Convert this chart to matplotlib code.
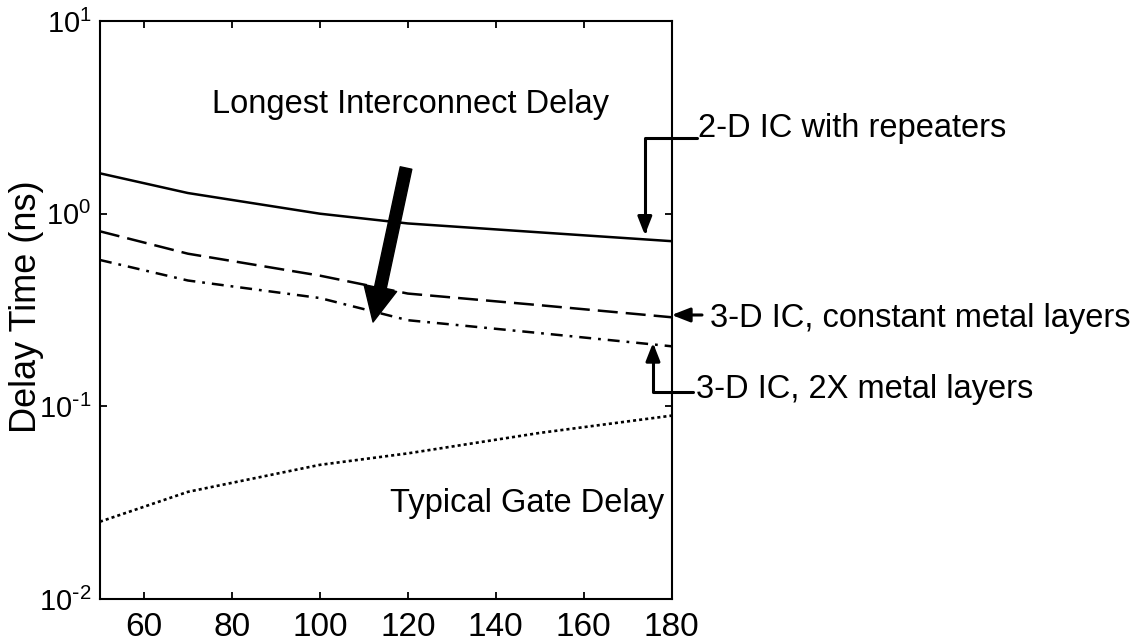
import matplotlib
matplotlib.use("Agg")
import matplotlib.pyplot as plt
from matplotlib.ticker import FixedLocator, FuncFormatter, NullLocator
import numpy as np

plt.rcParams['font.family'] = ['Liberation Sans', 'DejaVu Sans']
plt.rcParams['lines.scale_dashes'] = False
plt.rcParams['axes.unicode_minus'] = False

# technology node (nm)
nodes = [50, 70, 100, 120, 150, 180]
# delay times (ns)
delay_2d = [1.62, 1.28, 1.00, 0.89, 0.80, 0.72]
delay_3d_const = [0.81, 0.62, 0.477, 0.385, 0.335, 0.29]
delay_3d_2x = [0.575, 0.45, 0.365, 0.28, 0.24, 0.205]
delay_gate = [0.0252, 0.036, 0.0497, 0.057, 0.0728, 0.0895]

x_ticks = [60, 80, 100, 120, 140, 160, 180]
y_ticks = [1e-2, 1e-1, 1e0, 1e1]


def decade_label(v, pos):
    # 10^n with a short hyphen like the original
    e = int(round(np.log10(v)))
    if e < 0:
        return r'$\mathdefault{10^{\text{-}%d}}$' % (-e)
    return r'$\mathdefault{10^{%d}}$' % e


fig = plt.figure(figsize=(11.45, 6.43), dpi=100)
ax = fig.add_axes([0.0873, 0.0684, 0.4993, 0.8989])

# the four curves
ax.plot(nodes, delay_2d, color='black', lw=1.8, linestyle='-')
ax.plot(nodes, delay_3d_const, color='black', lw=1.8, linestyle=(0, (14.4, 5.8)))
ax.plot(nodes, delay_3d_2x, color='black', lw=1.8, linestyle=(0, (8.6, 5.0, 2.0, 5.0)))
ax.plot(nodes, delay_gate, color='black', lw=1.9, linestyle=(0, (2.2, 2.2)))

ax.set_yscale('log')
ax.set_xlim(50, 180)
ax.set_ylim(1e-2, 1e1)
ax.set_xticks(x_ticks)
ax.yaxis.set_major_locator(FixedLocator(y_ticks))
ax.yaxis.set_major_formatter(FuncFormatter(decade_label))
ax.yaxis.set_minor_locator(NullLocator())

for s in ax.spines.values():
    s.set_linewidth(1.5)
ax.tick_params(which='major', direction='in', length=5, width=1.3,
               top=True, right=True)
ax.tick_params(axis='x', labelsize=24, pad=9)
ax.tick_params(axis='y', labelsize=21, pad=6)

fig.text(0.0235, 0.523, 'Delay Time (ns)', rotation=90, ha='center', va='center',
         fontsize=26)

# text labels inside the plot
ax.text(75.4, 3.33, 'Longest Interconnect Delay', fontsize=23.5, ha='left', va='baseline')
ax.text(115.9, 0.0284, 'Typical Gate Delay', fontsize=23.5, ha='left', va='baseline')

# big arrow showing the reduction
ax.annotate('', xy=(112.1, 0.274), xytext=(119.6, 1.726),
            arrowprops=dict(arrowstyle='simple,head_length=2.5,head_width=2.4,tail_width=0.85',
                            color='black', mutation_scale=10, shrinkA=0, shrinkB=0),
            annotation_clip=False)

small_head = '-|>,head_length=1.1,head_width=0.43'

# 2-D IC with repeaters
ax.text(185.9, 2.5, '2-D IC with repeaters', fontsize=23.5, ha='left', va='baseline')
ax.annotate('', xy=(173.9, 0.775), xytext=(185.75, 2.47),
            arrowprops=dict(arrowstyle=small_head, color='black', lw=2.2,
                            mutation_scale=10, shrinkA=0, shrinkB=0,
                            connectionstyle='angle,angleA=0,angleB=90,rad=0'),
            annotation_clip=False)

# 3-D IC, constant metal layers
ax.text(188.7, 0.259, '3-D IC, constant metal layers', fontsize=23.5, ha='left', va='baseline')
ax.annotate('', xy=(180.0, 0.298), xytext=(186.9, 0.298),
            arrowprops=dict(arrowstyle=small_head, color='black', lw=2.2,
                            mutation_scale=10, shrinkA=0, shrinkB=0),
            annotation_clip=False)

# 3-D IC, 2X metal layers
ax.text(185.6, 0.110, '3-D IC, 2X metal layers', fontsize=23.5, ha='left', va='baseline')
ax.annotate('', xy=(175.75, 0.214), xytext=(184.8, 0.119),
            arrowprops=dict(arrowstyle=small_head, color='black', lw=2.2,
                            mutation_scale=10, shrinkA=0, shrinkB=0,
                            connectionstyle='angle,angleA=0,angleB=90,rad=0'),
            annotation_clip=False)

fig.savefig('out.png', dpi=100)
